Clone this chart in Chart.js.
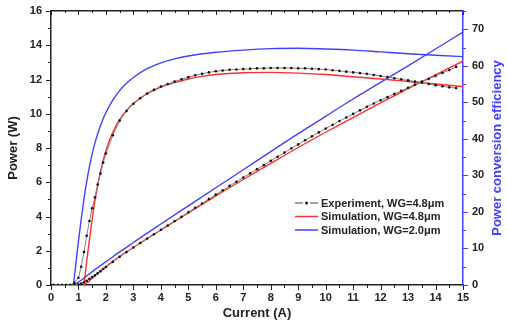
<!DOCTYPE html>
<html lang="en">
<head>
    <meta charset="UTF-8">
    <title>Power and efficiency vs current</title>
    <script src="https://cdn.jsdelivr.net/npm/chart.js@4.4.0/dist/chart.umd.min.js"></script>
    <style>
        body {
            margin: 0;
            padding: 0;
            background-color: #ffffff;
        }
        #chartBox {
            width: 507px;
            height: 321px;
        }
    </style>
</head>
<body>

<div id="chartBox">
    <canvas id="plChart" width="507" height="321"></canvas>
</div>

<script>
    // Experiment, WG=4.8um (current in A, power in W, efficiency in %)
    const expCurrent = [0.1, 0.25, 0.4, 0.55, 0.7, 0.85, 1.0, 1.1, 1.2, 1.3, 1.4, 1.5, 1.6, 1.7, 1.8, 1.9, 2.0,
        2.25, 2.5, 2.75, 3, 3.25, 3.5, 3.75, 4, 4.25, 4.5, 4.75, 5, 5.25, 5.5, 5.75, 6, 6.25, 6.5, 6.75, 7,
        7.25, 7.5, 7.75, 8, 8.25, 8.5, 8.75, 9, 9.25, 9.5, 9.75, 10, 10.25, 10.5, 10.75, 11, 11.25, 11.5,
        11.75, 12, 12.25, 12.5, 12.75, 13, 13.25, 13.5, 13.75, 14, 14.25, 14.5, 14.75];
    const expPower = [0, 0, 0, 0, 0, 0.01, 0.03, 0.08, 0.16, 0.25, 0.36, 0.46, 0.56, 0.68, 0.80, 0.93, 1.05,
        1.35, 1.65, 1.92, 2.19, 2.45, 2.71, 2.96, 3.22, 3.47, 3.73, 3.98, 4.25, 4.51, 4.76, 5.02, 5.28, 5.53,
        5.79, 6.03, 6.28, 6.52, 6.76, 7.00, 7.25, 7.49, 7.73, 7.98, 8.21, 8.45, 8.68, 8.91, 9.14, 9.35, 9.57,
        9.78, 9.99, 10.20, 10.41, 10.60, 10.79, 10.97, 11.16, 11.34, 11.52, 11.70, 11.88, 12.03, 12.21, 12.38,
        12.55, 12.74];
    const expEfficiency = [0, 0, 0, 0, 0, 0.6, 2, 5, 9, 13.5, 17.5, 21, 24, 27.5, 30.5, 33.5, 36,
        41, 45, 47.6, 49.6, 51.1, 52.4, 53.4, 54.3, 55.0, 55.7, 56.3, 56.9, 57.4, 57.8, 58.2, 58.5, 58.7,
        58.9, 59.0, 59.1, 59.2, 59.3, 59.3, 59.4, 59.4, 59.4, 59.4, 59.3, 59.3, 59.2, 59.1, 59.0, 58.8, 58.6,
        58.4, 58.2, 58.0, 57.8, 57.5, 57.2, 56.9, 56.6, 56.3, 56.0, 55.7, 55.4, 55.0, 54.7, 54.4, 54.1, 53.9];

    // Simulation, WG=4.8um
    const sim48Current = [1.2, 1.3, 1.4, 1.5, 1.6, 1.8, 2.0, 2.25, 2.5, 2.75, 3, 3.5, 4, 4.5, 5, 5.5, 6,
        7, 8, 9, 10, 11, 12, 13, 14, 15];
    const sim48Power = [0, 0.12, 0.25, 0.39, 0.54, 0.81, 1.07, 1.37, 1.66, 1.93, 2.19, 2.71, 3.21, 3.71,
        4.21, 4.70, 5.20, 6.16, 7.10, 8.03, 8.92, 9.78, 10.64, 11.46, 12.27, 13.07];
    const sim48Efficiency = [0, 6.5, 12.5, 18, 23, 31, 36.8, 41.8, 45.3, 47.8, 49.7, 52.4, 54.2, 55.4, 56.4,
        57.1, 57.6, 58.1, 58.2, 58.0, 57.6, 57.0, 56.4, 55.7, 55.0, 54.3];

    // Simulation, WG=2.0um
    const sim20Current = [0.82, 0.9, 1.0, 1.1, 1.2, 1.3, 1.4, 1.5, 1.6, 1.8, 2.0, 2.25, 2.5, 2.75, 3, 3.5,
        4, 4.5, 5, 6, 7, 8, 9, 10, 11, 12, 13, 14, 15];
    const sim20Power = [0, 0.07, 0.17, 0.28, 0.41, 0.53, 0.65, 0.78, 0.90, 1.13, 1.36, 1.65, 1.93, 2.20,
        2.48, 3.03, 3.56, 4.09, 4.62, 5.68, 6.73, 7.79, 8.84, 9.85, 10.86, 11.83, 12.80, 13.78, 14.77];
    const sim20Efficiency = [0, 5.5, 12, 18, 23.5, 28.3, 32.4, 35.9, 38.9, 43.6, 47.2, 50.6, 53.2, 55.2,
        56.8, 59.2, 60.8, 61.9, 62.7, 63.7, 64.3, 64.7, 64.8, 64.6, 64.3, 63.8, 63.3, 62.9, 62.5];

    const legendLabels = ['Experiment, WG=4.8\u03bcm', 'Simulation, WG=4.8\u03bcm', 'Simulation, WG=2.0\u03bcm'];

    const RED = 'rgb(255, 45, 45)';
    const BLUE = 'rgb(64, 64, 255)';
    const GREY = 'rgb(130, 130, 130)';
    const FONT = "'Liberation Sans', Arial, sans-serif";

    function pairs(xs, ys) {
        return xs.map((x, i) => ({ x: x, y: ys[i] }));
    }

    function expStyle(data, axis) {
        return {
            data: data,
            yAxisID: axis,
            borderColor: GREY,
            borderWidth: 1,
            pointRadius: 1.3,
            pointBackgroundColor: '#111',
            pointBorderWidth: 0,
            order: 0
        };
    }

    function simStyle(data, axis, color) {
        return {
            data: data,
            yAxisID: axis,
            borderColor: color,
            borderWidth: 1.4,
            pointRadius: 0,
            cubicInterpolationMode: 'monotone',
            order: 1
        };
    }

    // tick marks: long on labelled values, short in between
    const tickMarks = {
        id: 'tickMarks',
        afterDraw(chart) {
            const { ctx, chartArea, scales } = chart;
            ctx.save();
            ctx.lineWidth = 1;

            ctx.strokeStyle = '#222';
            scales.y.ticks.forEach(t => {
                const p = Math.round(scales.y.getPixelForValue(t.value)) + 0.5;
                const len = t.value % 2 === 0 ? 5 : 3;
                ctx.beginPath();
                ctx.moveTo(chartArea.left - len, p);
                ctx.lineTo(chartArea.left, p);
                ctx.stroke();
            });
            scales.x.ticks.forEach(t => {
                const p = Math.round(scales.x.getPixelForValue(t.value)) + 0.5;
                const len = Number.isInteger(t.value) ? 5 : 3;
                ctx.beginPath();
                ctx.moveTo(p, chartArea.bottom);
                ctx.lineTo(p, chartArea.bottom + len);
                ctx.stroke();
                ctx.beginPath();
                ctx.moveTo(p, chartArea.top);
                ctx.lineTo(p, chartArea.top + len - 1);
                ctx.stroke();
            });

            ctx.strokeStyle = BLUE;
            scales.y2.ticks.forEach(t => {
                const p = Math.round(scales.y2.getPixelForValue(t.value)) + 0.5;
                const len = t.value % 10 === 0 ? 5 : 3;
                ctx.beginPath();
                ctx.moveTo(chartArea.right, p);
                ctx.lineTo(chartArea.right + len, p);
                ctx.stroke();
            });

            // right axis title, reading bottom to top
            ctx.fillStyle = BLUE;
            ctx.font = 'bold 13px ' + FONT;
            ctx.textAlign = 'center';
            ctx.textBaseline = 'middle';
            ctx.translate(497, (chartArea.top + chartArea.bottom) / 2);
            ctx.rotate(-Math.PI / 2);
            ctx.fillText('Power conversion efficiency', 0, 0);
            ctx.restore();
        }
    };

    // legend in the lower right of the plot
    const insideLegend = {
        id: 'insideLegend',
        afterDraw(chart) {
            const ctx = chart.ctx;
            const x0 = 295, x1 = 318, tx = 321;
            const rows = [203, 216.5, 230];
            ctx.save();
            ctx.font = 'bold 11px ' + FONT;
            ctx.fillStyle = '#222';
            ctx.textBaseline = 'middle';
            ctx.textAlign = 'left';
            legendLabels.forEach((label, i) => {
                const y = rows[i];
                if (i === 0) {
                    ctx.strokeStyle = GREY;
                    ctx.lineWidth = 1.5;
                    ctx.beginPath();
                    ctx.moveTo(x0, y);
                    ctx.lineTo(x0 + 8, y);
                    ctx.moveTo(x1 - 8, y);
                    ctx.lineTo(x1, y);
                    ctx.stroke();
                    ctx.fillStyle = '#111';
                    ctx.beginPath();
                    ctx.arc((x0 + x1) / 2, y, 1.5, 0, Math.PI * 2);
                    ctx.fill();
                    ctx.fillStyle = '#222';
                } else {
                    ctx.strokeStyle = i === 1 ? RED : BLUE;
                    ctx.lineWidth = 1.5;
                    ctx.beginPath();
                    ctx.moveTo(x0, y);
                    ctx.lineTo(x1, y);
                    ctx.stroke();
                }
                ctx.fillText(label, tx, y + 0.5);
            });
            ctx.restore();
        }
    };

    const tickFont = { family: FONT, size: 11, weight: 'bold' };
    const titleFont = { family: FONT, size: 13, weight: 'bold' };

    // fixed axis boxes so the plot area sits where the reference has it
    function fixBox(w, h) {
        return s => {
            if (w !== null) s.width = w;
            if (h !== null) s.height = h;
            s.paddingTop = 0;
            s.paddingBottom = 0;
            s.paddingLeft = 0;
            s.paddingRight = 0;
        };
    }

    const ctx = document.getElementById('plChart').getContext('2d');
    const plChart = new Chart(ctx, {
        type: 'line',
        data: {
            datasets: [
                expStyle(pairs(expCurrent, expPower), 'y'),
                expStyle(pairs(expCurrent, expEfficiency), 'y2'),
                simStyle(pairs(sim48Current, sim48Power), 'y', RED),
                simStyle(pairs(sim48Current, sim48Efficiency), 'y2', RED),
                simStyle(pairs(sim20Current, sim20Power), 'y', BLUE),
                simStyle(pairs(sim20Current, sim20Efficiency), 'y2', BLUE)
            ]
        },
        options: {
            responsive: false,
            animation: false,
            layout: { padding: 0 },
            plugins: {
                legend: { display: false },
                tooltip: { enabled: false }
            },
            scales: {
                x: {
                    type: 'linear',
                    position: 'bottom',
                    min: 0,
                    max: 15,
                    afterFit: fixBox(null, 36),
                    grid: { display: false, drawTicks: false },
                    border: { color: '#222', width: 1.5 },
                    ticks: {
                        stepSize: 0.5,
                        autoSkip: false,
                        maxRotation: 0,
                        padding: 6,
                        color: '#222',
                        font: tickFont,
                        callback: v => Number.isInteger(v) ? v : ''
                    },
                    title: {
                        display: true,
                        text: 'Current (A)',
                        color: '#222',
                        font: titleFont,
                        padding: { top: 0, bottom: 0 }
                    }
                },
                xTop: {
                    type: 'linear',
                    position: 'top',
                    min: 0,
                    max: 15,
                    afterFit: fixBox(null, 11),
                    grid: { display: false, drawTicks: false },
                    border: { color: '#222', width: 1.5 },
                    ticks: { stepSize: 0.5, autoSkip: false, display: false }
                },
                y: {
                    type: 'linear',
                    position: 'left',
                    min: 0,
                    max: 16,
                    afterFit: fixBox(51, null),
                    grid: { display: false, drawTicks: false },
                    border: { color: '#222', width: 1.5 },
                    ticks: {
                        stepSize: 1,
                        autoSkip: false,
                        padding: 9,
                        color: '#222',
                        font: tickFont,
                        callback: v => v % 2 === 0 ? v : ''
                    },
                    title: {
                        display: true,
                        text: 'Power (W)',
                        color: '#222',
                        font: titleFont,
                        padding: { top: 6, bottom: 0 }
                    }
                },
                y2: {
                    type: 'linear',
                    position: 'right',
                    min: 0,
                    max: 75,
                    afterFit: fixBox(44, null),
                    grid: { display: false, drawTicks: false },
                    border: { color: BLUE, width: 1.5 },
                    ticks: {
                        stepSize: 5,
                        autoSkip: false,
                        padding: 9,
                        color: '#222',
                        font: tickFont,
                        callback: v => v % 10 === 0 ? v : ''
                    }
                }
            }
        },
        plugins: [tickMarks, insideLegend]
    });
</script>

</body>
</html>
